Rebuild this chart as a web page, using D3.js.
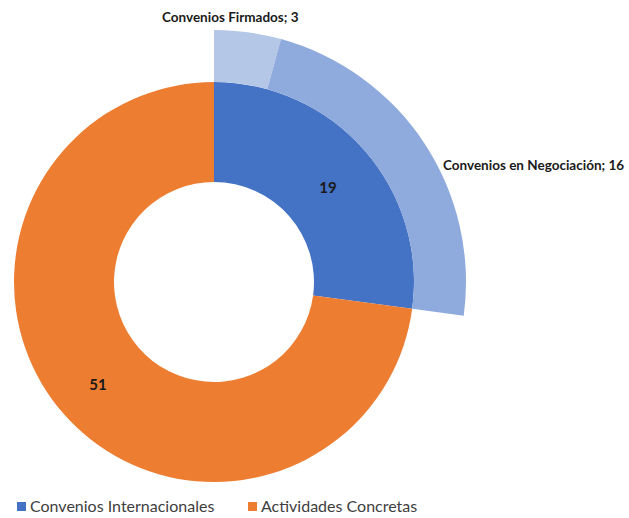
<!DOCTYPE html>
<html>
<head>
<meta charset="utf-8">
<script src="https://cdn.jsdelivr.net/npm/d3@7"></script>
<style>
  body { margin: 0; background: #fff; }
  svg text { font-family: Lato, "Open Sans", sans-serif; }
</style>
</head>
<body>
<svg width="629" height="518"></svg>
<script>
// inner ring
var categories = ['Convenios Internacionales', 'Actividades Concretas'];
var categoryValues = [19, 51];
// outer ring, split of Convenios Internacionales
var subCategories = ['Convenios Firmados', 'Convenios en Negociación'];
var subValues = [3, 16];

var svg = d3.select('svg');
var cx = 214, cy = 282;
var total = d3.sum(categoryValues);

var innerColor = d3.scaleOrdinal().domain(categories).range(['#4472C4', '#ED7D31']);
var outerColor = d3.scaleOrdinal().domain(subCategories).range(['#B4C7E7', '#8FAADC']);

var g = svg.append('g').attr('transform', 'translate(' + cx + ',' + cy + ')');

//Inner donut
var pie = d3.pie().sort(null).value(function (d) { return d.value; });
var innerData = pie(categories.map(function (c, i) { return { name: c, value: categoryValues[i] }; }));
var innerArc = d3.arc().innerRadius(100).outerRadius(200);

g.selectAll('.inner').data(innerData).enter().append('path')
  .attr('class', 'inner')
  .attr('d', innerArc)
  .attr('fill', function (d) { return innerColor(d.data.name); });

//Outer ring only spans the first category
var angle = d3.scaleLinear().domain([0, total]).range([0, 2 * Math.PI]);
var outerArc = d3.arc().innerRadius(200).outerRadius(252);
var cum = 0;
var outerData = subCategories.map(function (c, i) {
  var d = { name: c, value: subValues[i], startAngle: angle(cum), endAngle: angle(cum + subValues[i]) };
  cum += subValues[i];
  return d;
});

g.selectAll('.outer').data(outerData).enter().append('path')
  .attr('class', 'outer')
  .attr('d', outerArc)
  .attr('fill', function (d) { return outerColor(d.name); });

//Value labels on inner ring
var labelPos = [[114, -93], [-116, 104]];
g.selectAll('.val').data(innerData).enter().append('text')
  .attr('x', function (d, i) { return labelPos[i][0]; })
  .attr('y', function (d, i) { return labelPos[i][1]; })
  .attr('text-anchor', 'middle')
  .attr('dominant-baseline', 'middle')
  .style('font-size', '15px')
  .style('font-weight', 'bold')
  .attr('fill', '#1a1a1a')
  .text(function (d) { return d.data.value; });

//Outer labels
var outerLabelPos = [[162, 22], [443, 170]];
svg.selectAll('.olab').data(outerData).enter().append('text')
  .attr('x', function (d, i) { return outerLabelPos[i][0]; })
  .attr('y', function (d, i) { return outerLabelPos[i][1]; })
  .style('font-size', '13.5px')
  .style('font-weight', 'bold')
  .attr('fill', '#1a1a1a')
  .text(function (d) { return d.name + '; ' + d.value; });

//Legend
var legendX = [17, 248];
var legend = svg.selectAll('.legend').data(categories).enter().append('g')
  .attr('transform', function (d, i) { return 'translate(' + legendX[i] + ',503)'; });
legend.append('rect').attr('width', 9).attr('height', 9).attr('y', -1)
  .attr('fill', function (d) { return innerColor(d); });
legend.append('text').attr('x', 13).attr('y', 9)
  .style('font-size', '16px')
  .attr('fill', '#404040')
  .text(function (d) { return d; });
</script>
</body>
</html>
